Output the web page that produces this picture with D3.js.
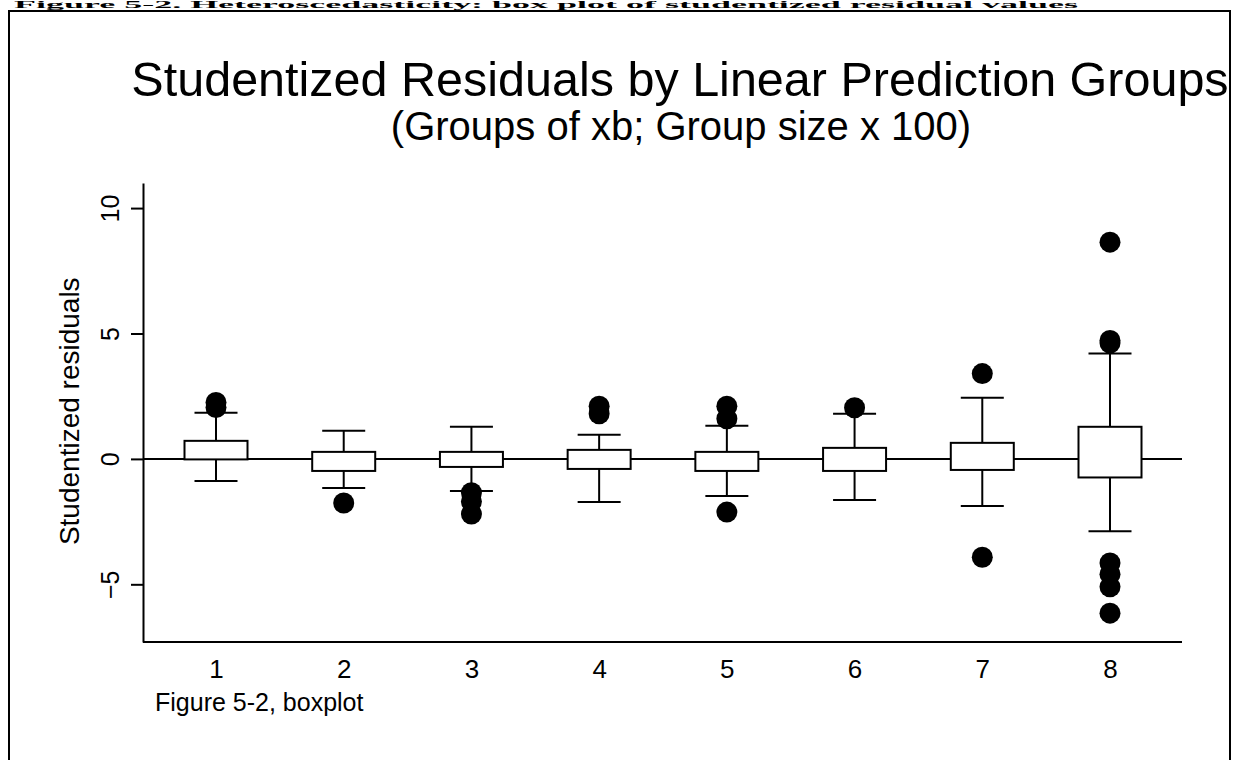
<!DOCTYPE html>
<html>
<head>
<meta charset="utf-8">
<script src="https://cdn.jsdelivr.net/npm/d3@7"></script>
<style>
  body { margin: 0; background: #fff; }
  svg { display: block; }
  text { font-family: "Liberation Sans", Arial, sans-serif; fill: #000; }
</style>
</head>
<body>
<div id="chart"></div>
<script>
// Box plot summaries, one entry per group of xb
var groups = ["1", "2", "3", "4", "5", "6", "7", "8"];
var q1 = [-0.02, -0.48, -0.32, -0.40, -0.48, -0.48, -0.44, -0.74];
var q3 = [0.72, 0.28, 0.28, 0.36, 0.28, 0.44, 0.64, 1.28];
var whiskLo = [-0.88, -1.16, -1.28, -1.72, -1.48, -1.64, -1.88, -2.88];
var whiskHi = [1.84, 1.12, 1.28, 0.96, 1.32, 1.80, 2.44, 4.20];
var outliers = [
    [2.05, 2.25],
    [-1.76],
    [-1.35, -1.7, -2.2],
    [1.8, 2.1],
    [1.6, 2.1, -2.12],
    [2.04],
    [3.4, -3.92],
    [8.64, 4.62, 4.72, -4.15, -4.6, -5.1, -6.15]
];
var yTicks = [-5, 0, 5, 10];

var W = 1235, H = 760;
var margin = { top: 183, left: 143, right: 53, bottom: 118 };
var width = W - margin.left - margin.right,   // 1039
    height = H - margin.top - margin.bottom;  // 459

var svg = d3.select("#chart").append("svg")
    .attr("width", W)
    .attr("height", H);

// page header strip above the frame (cut off in the scan)
svg.append("text")
    .attr("x", 14)
    .attr("y", 8)
    .attr("textLength", 1064)
    .attr("lengthAdjust", "spacingAndGlyphs")
    .style("font-family", "'Liberation Serif', 'Times New Roman', serif")
    .style("font-weight", "bold")
    .style("font-size", "10px")
    .text("Figure 5-2. Heteroscedasticity: box plot of studentized residual values");

// outer frame
svg.append("rect")
    .attr("x", 9).attr("y", 11)
    .attr("width", 1221).attr("height", 800)
    .attr("fill", "none")
    .attr("stroke", "#000")
    .attr("stroke-width", 2);

svg.append("text")
    .attr("x", 680).attr("y", 96)
    .attr("text-anchor", "middle")
    .style("font-size", "48.5px")
    .text("Studentized Residuals by Linear Prediction Groups");

svg.append("text")
    .attr("x", 681).attr("y", 140)
    .attr("text-anchor", "middle")
    .style("font-size", "40px")
    .text("(Groups of xb; Group size x 100)");

var g = svg.append("g")
    .attr("transform", "translate(" + margin.left + "," + margin.top + ")");

var x = d3.scalePoint()
    .domain(groups)
    .range([73, 967]);
var y = d3.scaleLinear()
    .domain([-7.3, 11])
    .range([height, 0]);

var boxW = 63, capW = 43, dotR = 10.5;

// reference line at zero, boxes sit on top of it
g.append("line")
    .attr("x1", 0).attr("x2", width)
    .attr("y1", y(0)).attr("y2", y(0))
    .attr("stroke", "#000").attr("stroke-width", 2);

groups.forEach(function (grp, i) {
    var cx = x(grp);
    var bg = g.append("g").attr("stroke", "#000").attr("stroke-width", 2);
    // whiskers
    bg.append("line")
        .attr("x1", cx).attr("x2", cx)
        .attr("y1", y(q3[i])).attr("y2", y(whiskHi[i]));
    bg.append("line")
        .attr("x1", cx).attr("x2", cx)
        .attr("y1", y(q1[i])).attr("y2", y(whiskLo[i]));
    [whiskHi[i], whiskLo[i]].forEach(function (v) {
        bg.append("line")
            .attr("x1", cx - capW / 2).attr("x2", cx + capW / 2)
            .attr("y1", y(v)).attr("y2", y(v));
    });
    // box
    bg.append("rect")
        .attr("x", cx - boxW / 2)
        .attr("y", y(q3[i]))
        .attr("width", boxW)
        .attr("height", y(q1[i]) - y(q3[i]))
        .attr("fill", "#fff");
    // outside values
    outliers[i].forEach(function (v) {
        g.append("circle")
            .attr("cx", cx).attr("cy", y(v))
            .attr("r", dotR)
            .attr("fill", "#000");
    });
});

// Y axis
var yAxis = g.append("g")
    .call(d3.axisLeft(y).tickValues(yTicks).tickSize(12).tickSizeOuter(0));
yAxis.select(".domain").attr("stroke-width", 2);
yAxis.selectAll(".tick line").attr("stroke-width", 2);
yAxis.selectAll(".tick text")
    .attr("x", null).attr("dy", null)
    .attr("text-anchor", "middle")
    .attr("transform", "translate(-24,0) rotate(-90)")
    .style("font-family", "'Liberation Sans', Arial, sans-serif")
    .style("font-size", "25px");

// X axis: plain line with the group numbers below
var xAxis = g.append("g")
    .attr("transform", "translate(0," + height + ")")
    .call(d3.axisBottom(x).tickSize(0).tickSizeOuter(0));
xAxis.select(".domain").attr("d", "M0,0H" + width).attr("stroke-width", 2);
xAxis.selectAll(".tick text")
    .attr("y", 0).attr("dy", "36px")
    .style("font-family", "'Liberation Sans', Arial, sans-serif")
    .style("font-size", "26px");

svg.append("text")
    .attr("transform", "translate(79," + (margin.top + y(1.9)) + ") rotate(-90)")
    .attr("text-anchor", "middle")
    .style("font-size", "28px")
    .text("Studentized residuals");

svg.append("text")
    .attr("x", 155).attr("y", 711)
    .style("font-size", "25px")
    .text("Figure 5-2, boxplot");
</script>
</body>
</html>
